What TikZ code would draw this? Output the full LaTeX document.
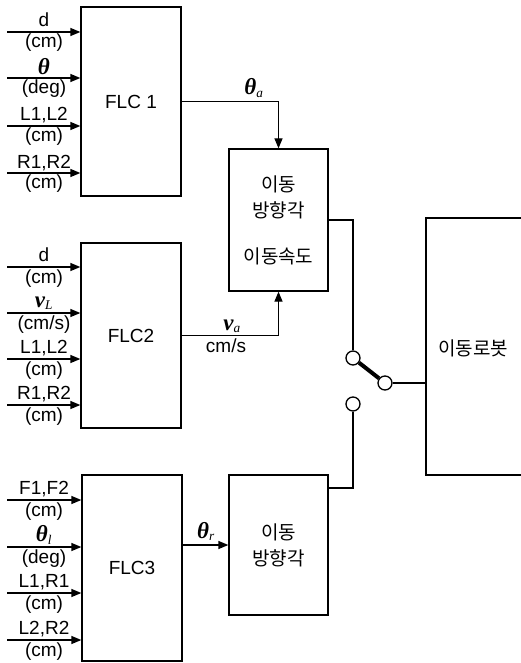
\documentclass[tikz,border=0pt]{standalone}
\usepackage{fontspec}
\setmainfont{Liberation Sans}
\newfontfamily\krfont{Noto Sans CJK KR}
\newfontfamily\grfont{Liberation Serif}
\usetikzlibrary{arrows.meta,calc}

\newcommand{\sym}[2]{{\grfont\itshape{\bfseries\fontsize{23}{23}\selectfont #1}\textsubscript{#2}}}

\tikzset{
  blk/.style={draw, line width=1.3pt, inner sep=0pt, align=center,
    font=\fontsize{19}{26}\selectfont},
  sw/.style={draw, circle, line width=1.3pt, minimum size=14pt, inner sep=0pt},
  lbl/.style={anchor=base, inner sep=0pt, font=\fontsize{19}{22}\selectfont},
  arr/.style={-{Triangle[length=10pt,width=8pt]}, line width=1.3pt},
}

\begin{document}
\begin{tikzpicture}[x=1pt, y=-1pt]
    \useasboundingbox (0,0) rectangle (521,663);
    \clip (0,0) rectangle (521,663);

    % controllers
    \node[blk, minimum width=100, minimum height=189] (flcA) at (131,101.5) {FLC 1};
    \node[blk, minimum width=100, minimum height=185] (flcB) at (131,335.5) {FLC2};
    \node[blk, minimum width=100, minimum height=186] (flcC) at (132,568) {FLC3};

    % direction / speed blocks
    \node[blk, minimum width=99, minimum height=142] (dirA) at (278.5,220)
        {\krfont 이동\\\krfont 방향각\\[20pt]\krfont 이동속도};
    \node[blk, minimum width=99, minimum height=140] (dirB) at (278.5,545)
        {\krfont 이동\\\krfont 방향각};

    % robot (right edge runs off the page)
    \node[blk, minimum width=110, minimum height=257] (robot) at (481,346.5) {};
    \node[lbl, anchor=center, font=\krfont\fontsize{19}{22}\selectfont] (robotTxt) at (473,348) {이동로봇};

    % inputs of FLC 1
    \foreach \y/\a/\b in {32/d/(cm), 78/{\raisebox{-2pt}{\sym{θ}{}}}/(deg),
                          126/{L1,L2}/(cm), 173/{R1,R2}/(cm)} {
        \coordinate (inA\y) at (7,\y);
        \draw[arr] (inA\y) -- (inA\y -| flcA.west);
        \node[lbl] at (44,\y-5) {\a};
        \node[lbl] at (44,\y+16) {\b};
    }
    % inputs of FLC2
    \foreach \y/\a/\b in {267/d/(cm), 313/{\sym{v}{L}}/{(cm/s)},
                          359/{L1,L2}/(cm), 405/{R1,R2}/(cm)} {
        \coordinate (inB\y) at (7,\y);
        \draw[arr] (inB\y) -- (inB\y -| flcB.west);
        \node[lbl] at (44,\y-6) {\a};
        \node[lbl] at (44,\y+16) {\b};
    }
    % inputs of FLC3
    \foreach \y/\a/\b in {500/{F1,F2}/(cm), 547/{\sym{θ}{l}}/(deg),
                          593/{L1,R1}/(cm), 640/{L2,R2}/(cm)} {
        \coordinate (inC\y) at (7,\y);
        \draw[arr] (inC\y) -- (inC\y -| flcC.west);
        \node[lbl] at (44,\y-6) {\a};
        \node[lbl] at (44,\y+16) {\b};
    }

    % controller outputs
    \draw[arr] (flcA.east) -| (dirA.north);
    \draw[arr] (flcB.east) -| (dirA.south);
    \draw[arr] (dirB.west -| flcC.east) -- (dirB.west);
    \node[lbl] (thA) at (254,95) {\sym{θ}{a}};
    \node[lbl] (vA) at (232,330) {\sym{v}{a}};
    \node[lbl] (vUnit) at (226,352) {cm/s};
    \node[lbl] (thR) at (206,538) {\sym{θ}{r}};

    % switch
    \node[sw] (swA) at (353,358) {};
    \node[sw] (swB) at (353,404) {};
    \node[sw] (swP) at (385,383) {};
    \coordinate (dirBout) at (328,488);
    \draw[line width=1.3pt] (dirA.east) -| (swA);
    \draw[line width=1.3pt] (dirBout) -| (swB);
    \draw[line width=4pt] (swA) -- (swP);
    \draw[line width=1.3pt] (swP) -- (swP -| robot.west);
\end{tikzpicture}
\end{document}
